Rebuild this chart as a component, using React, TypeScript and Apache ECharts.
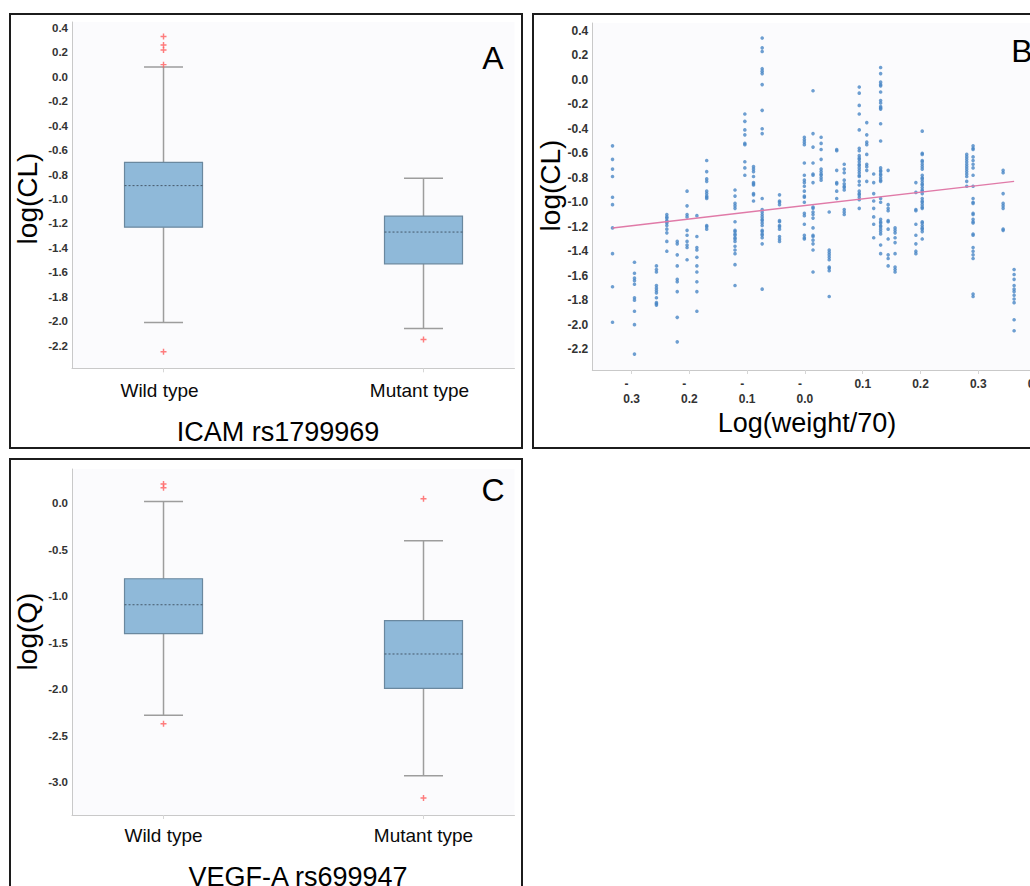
import React, { useEffect, useRef } from "react";
import * as echarts from "echarts";

// ---------- Data ----------
const genotypes = ["Wild type", "Mutant type"];

// Box statistics: [lower whisker, Q1, median, Q3, upper whisker]
const clBoxWild = [-2.01, -1.23, -0.89, -0.7, 0.08];
const clBoxMutant = [-2.06, -1.53, -1.27, -1.14, -0.83];
const clOutliersWild = [0.33, 0.26, 0.22, 0.1, -2.25];
const clOutliersMutant = [-2.15];

const qBoxWild = [-2.28, -1.4, -1.09, -0.81, 0.02];
const qBoxMutant = [-2.93, -1.99, -1.62, -1.26, -0.4];
const qOutliersWild = [0.21, 0.17, -2.37];
const qOutliersMutant = [0.05, -3.17];

const clTicks = [-2.2, -2.0, -1.8, -1.6, -1.4, -1.2, -1.0, -0.8, -0.6, -0.4, -0.2, 0.0, 0.2, 0.4];
const qTicks = [-3.0, -2.5, -2.0, -1.5, -1.0, -0.5, 0.0];
const weightTicks = [-0.3, -0.2, -0.1, 0.0, 0.1, 0.2, 0.3, 0.4];
const weightTickLabels = ["-0.3", "-0.2", "-0.1", "-0.0", "0.1", "0.2", "0.3", "0.4"];

// Scatter (panel B): x positions of the point columns and log(CL) values in each column
const weightColumns = [
  -0.333, -0.295, -0.257, -0.239, -0.221, -0.204, -0.187, -0.17, -0.121, -0.104, -0.089,
  -0.074, -0.044, -0.001, 0.014, 0.028, 0.042, 0.055, 0.068, 0.094, 0.107, 0.119, 0.131,
  0.144, 0.156, 0.192, 0.203, 0.28, 0.291, 0.343, 0.362,
];
const clByWeight = [
  [-0.54, -0.65, -0.73, -0.79, -0.96, -1.02, -1.21, -1.42, -1.69, -1.98],
  [-1.49, -1.58, -1.62, -1.64, -1.67, -1.78, -1.8, -1.89, -2.0, -2.24],
  [-1.52, -1.55, -1.57, -1.68, -1.7, -1.72, -1.74, -1.78, -1.82, -1.83, -1.84],
  [-1.1, -1.12, -1.13, -1.15, -1.16, -1.17, -1.19, -1.22, -1.25, -1.32, -1.4],
  [-1.32, -1.34, -1.43, -1.52, -1.63, -1.65, -1.73, -1.94, -2.14],
  [-0.91, -1.03, -1.1, -1.12, -1.23, -1.27, -1.32, -1.35, -1.37, -1.47],
  [-1.11, -1.28, -1.37, -1.39, -1.45, -1.52, -1.57, -1.65, -1.73, -1.89],
  [-0.66, -0.75, -0.81, -0.83, -0.91, -0.93, -0.95, -0.96, -0.97, -1.19, -1.2, -1.22],
  [-0.9, -0.95, -1.01, -1.03, -1.05, -1.16, -1.23, -1.24, -1.26, -1.27, -1.29, -1.3, -1.32, -1.36, -1.39, -1.42, -1.51, -1.68],
  [-0.28, -0.34, -0.41, -0.45, -0.52, -0.53, -0.67, -0.72, -0.78],
  [-0.71, -0.73, -0.75, -0.79, -0.84, -0.85, -0.86, -0.93, -0.94, -0.99],
  [0.34, 0.26, 0.23, 0.09, 0.07, 0.05, -0.04, -0.25, -0.4, -0.44, -0.97, -1.06, -1.08, -1.1, -1.12, -1.14, -1.15, -1.17, -1.19, -1.23, -1.24, -1.26, -1.27, -1.29, -1.34, -1.71],
  [-0.94, -0.99, -1.0, -1.02, -1.15, -1.16, -1.19, -1.2, -1.22, -1.28, -1.3, -1.32],
  [-0.47, -0.49, -0.51, -0.53, -0.68, -0.78, -0.82, -0.84, -0.87, -0.91, -0.95, -0.96, -1.0, -1.09, -1.11, -1.18, -1.27, -1.29, -1.3],
  [-0.09, -0.44, -0.55, -0.68, -0.77, -0.78, -0.84, -1.04, -1.05, -1.08, -1.1, -1.13, -1.21, -1.27, -1.28, -1.31, -1.34, -1.39, -1.57],
  [-0.47, -0.52, -0.57, -0.65, -0.73, -0.75, -0.77, -0.78, -0.8, -0.82],
  [-1.08, -1.39, -1.41, -1.43, -1.45, -1.47, -1.53, -1.54, -1.56, -1.77],
  [-0.57, -0.58, -0.74, -0.84, -0.85, -0.91, -0.97],
  [-0.69, -0.73, -0.76, -0.82, -0.85, -0.87, -0.88, -0.9, -1.06, -1.08, -1.1],
  [-0.06, -0.11, -0.21, -0.28, -0.41, -0.56, -0.58, -0.62, -0.64, -0.65, -0.67, -0.69, -0.7, -0.72, -0.74, -0.76, -0.78, -0.79, -0.83, -0.86, -0.91, -0.93, -0.94, -0.96, -0.98, -1.05],
  [-0.35, -0.45, -0.51, -0.53, -0.61, -0.69, -0.71, -0.74, -0.83],
  [-0.77, -0.84, -0.93, -0.99, -1.05, -1.12, -1.18, -1.29],
  [0.1, 0.05, -0.02, -0.04, -0.05, -0.1, -0.17, -0.19, -0.22, -0.23, -0.24, -0.36, -0.5, -0.72, -0.74, -0.75, -0.77, -0.78, -0.8, -0.82, -0.83, -0.97, -1.0, -1.14, -1.16, -1.17, -1.19, -1.2, -1.22, -1.24, -1.26, -1.35, -1.42],
  [-0.74, -1.02, -1.05, -1.07, -1.15, -1.16, -1.22, -1.3, -1.43, -1.46, -1.52],
  [-1.21, -1.23, -1.25, -1.29, -1.33, -1.42, -1.53, -1.55, -1.57],
  [-0.84, -0.92, -1.06, -1.07, -1.18, -1.27, -1.34, -1.4, -1.42],
  [-0.42, -0.6, -0.61, -0.66, -0.67, -0.69, -0.71, -0.73, -0.78, -0.8, -0.81, -0.83, -0.85, -0.86, -0.88, -0.9, -0.91, -0.93, -0.97, -0.99, -1.0, -1.02, -1.04, -1.05, -1.16, -1.17, -1.19, -1.21, -1.22, -1.24, -1.3],
  [-0.61, -0.63, -0.65, -0.67, -0.69, -0.71, -0.73, -0.75, -0.77, -0.79, -0.83, -0.87],
  [-0.54, -0.56, -0.57, -0.63, -0.66, -0.69, -0.72, -0.78, -0.87, -0.97, -1.0, -1.01, -1.09, -1.1, -1.14, -1.16, -1.17, -1.26, -1.27, -1.37, -1.4, -1.43, -1.46, -1.75, -1.77],
  [-0.74, -0.76, -0.93, -1.01, -1.03, -1.05, -1.22, -1.23],
  [-1.55, -1.59, -1.63, -1.68, -1.71, -1.73, -1.76, -1.79, -1.82, -1.96, -2.05],
];
const regressionX = [-0.333, 0.362];
const regressionY = [-1.21, -0.83];

// ---------- Styling helpers ----------
const FONT = "'Liberation Sans', Arial, Helvetica, sans-serif";
const AXIS_COLOR = "#c9c9c9";
const PLOT_BG = "#fbfbfd";
const PLUS = "path://M3.8,0H6.2V3.8H10V6.2H6.2V10H3.8V6.2H0V3.8H3.8Z";

const boxRenderItem = (params: any, api: any) => {
  const x = api.value(0);
  const lo = api.coord([x, api.value(1)]);
  const q1 = api.coord([x, api.value(2)]);
  const med = api.coord([x, api.value(3)]);
  const q3 = api.coord([x, api.value(4)]);
  const hi = api.coord([x, api.value(5)]);
  const halfBox = api.size([0.15, 0])[0];
  const halfCap = halfBox / 2;
  const cx = lo[0];
  const whisker = { stroke: "#9d9d9d", lineWidth: 1.5 };
  return {
    type: "group",
    children: [
      { type: "line", shape: { x1: cx, y1: hi[1], x2: cx, y2: q3[1] }, style: whisker },
      { type: "line", shape: { x1: cx, y1: q1[1], x2: cx, y2: lo[1] }, style: whisker },
      { type: "line", shape: { x1: cx - halfCap, y1: hi[1], x2: cx + halfCap, y2: hi[1] }, style: whisker },
      { type: "line", shape: { x1: cx - halfCap, y1: lo[1], x2: cx + halfCap, y2: lo[1] }, style: whisker },
      {
        type: "rect",
        shape: { x: cx - halfBox, y: q3[1], width: 2 * halfBox, height: q1[1] - q3[1] },
        style: { fill: "#8fb9d9", stroke: "#6a889f", lineWidth: 1.2 },
      },
      {
        type: "line",
        shape: { x1: cx - halfBox, y1: med[1], x2: cx + halfBox, y2: med[1] },
        style: { stroke: "#46596b", lineWidth: 1, lineDash: [2, 2] },
      },
    ],
  };
};

const catXAxis = (gridIndex: number, padRight: number, margin: number) => ({
  type: "value",
  gridIndex,
  min: -0.352,
  max: 1.35,
  splitLine: { show: false },
  axisLine: { show: true, onZero: false, lineStyle: { color: AXIS_COLOR } },
  axisTick: { show: true, customValues: [0, 1], length: 4, lineStyle: { color: "#d6d6d6" } },
  axisLabel: {
    customValues: [0, 1],
    formatter: (v: number) => genotypes[Math.round(v)],
    fontSize: 19,
    fontFamily: FONT,
    color: "#0a0a0a",
    margin,
    padding: [0, padRight, 0, 0],
  },
});

const valYAxis = (gridIndex: number, min: number, max: number, ticks: number[], size: number) => ({
  type: "value",
  gridIndex,
  min,
  max,
  splitLine: { show: false },
  axisLine: { show: true, onZero: false, lineStyle: { color: AXIS_COLOR } },
  axisTick: { show: false },
  axisLabel: {
    customValues: ticks,
    formatter: (v: number) => v.toFixed(1),
    fontSize: size,
    fontWeight: "bold",
    fontFamily: FONT,
    color: "#333",
    margin: 4,
  },
});

const boxData = (wild: number[], mutant: number[]) => [
  [0, ...wild],
  [1, ...mutant],
];

const outlierData = (wild: number[], mutant: number[]) => [
  ...wild.map((v) => [0, v]),
  ...mutant.map((v) => [1, v]),
];

const text = (t: string, x: number, y: number, size: number, extra: any = {}) => ({
  type: "text",
  x,
  y,
  silent: true,
  ...extra,
  style: {
    text: t,
    fontSize: size,
    fontFamily: FONT,
    fill: "#000",
    align: "center",
    verticalAlign: "middle",
  },
});

const panelRect = (x: number, y: number, w: number, h: number) => ({
  type: "rect",
  silent: true,
  shape: { x, y, width: w, height: h },
  style: { fill: "none", stroke: "#1c1c1c", lineWidth: 2 },
  z: 10,
});

export default function App() {
  const ref = useRef<HTMLDivElement>(null);

  useEffect(() => {
    document.documentElement.style.overflow = "hidden";
    document.body.style.overflow = "hidden";
    if (!ref.current) return;
    const chart = echarts.init(ref.current, undefined, { renderer: "svg" });

    const scatterPoints: number[][] = [];
    weightColumns.forEach((x, i) => {
      clByWeight[i].forEach((y) => scatterPoints.push([x, y]));
    });

    const option: any = {
      animation: false,
      backgroundColor: "#ffffff",
      textStyle: { fontFamily: FONT },
      grid: [
        { left: 72, top: 22, width: 442.5, height: 346.3, show: true, backgroundColor: PLOT_BG, borderWidth: 0, outerBoundsMode: "none" },
        { left: 592.3, top: 23, width: 450.7, height: 347, show: true, backgroundColor: PLOT_BG, borderWidth: 0, outerBoundsMode: "none" },
        { left: 72, top: 469, width: 442.5, height: 346, show: true, backgroundColor: PLOT_BG, borderWidth: 0, outerBoundsMode: "none" },
      ],
      xAxis: [
        catXAxis(0, 8, 13),
        {
          type: "value",
          gridIndex: 1,
          min: -0.368,
          max: 0.412,
          splitLine: { show: false },
          axisLine: { show: true, onZero: false, lineStyle: { color: AXIS_COLOR } },
          axisTick: { show: true, customValues: weightTicks, length: 4, lineStyle: { color: "#d6d6d6" } },
          axisLabel: {
            customValues: weightTicks,
            formatter: (v: number) => {
              let i = 0;
              weightTicks.forEach((t, k) => {
                if (Math.abs(t - v) < 1e-6) i = k;
              });
              const s = weightTickLabels[i];
              return s.startsWith("-") ? "-   \n" + s.slice(1) : s;
            },
            fontSize: 12,
            fontWeight: "bold",
            lineHeight: 15,
            fontFamily: FONT,
            color: "#333",
            margin: 6,
          },
        },
        catXAxis(2, 0, 11),
      ],
      yAxis: [
        valYAxis(0, -2.385, 0.449, clTicks, 11.5),
        valYAxis(1, -2.37, 0.463, clTicks, 12),
        valYAxis(2, -3.353, 0.371, qTicks, 11.5),
      ],
      series: [
        {
          type: "custom",
          xAxisIndex: 0,
          yAxisIndex: 0,
          renderItem: boxRenderItem,
          encode: { x: 0, y: [1, 2, 3, 4, 5] },
          data: boxData(clBoxWild, clBoxMutant),
        },
        {
          type: "scatter",
          xAxisIndex: 0,
          yAxisIndex: 0,
          symbol: PLUS,
          symbolSize: 6,
          itemStyle: { color: "#ff5c5c" },
          data: outlierData(clOutliersWild, clOutliersMutant),
        },
        {
          type: "scatter",
          xAxisIndex: 1,
          yAxisIndex: 1,
          symbol: "circle",
          symbolSize: 3.6,
          itemStyle: { color: "#4a87c6" },
          data: scatterPoints,
        },
        {
          type: "line",
          xAxisIndex: 1,
          yAxisIndex: 1,
          symbol: "none",
          lineStyle: { color: "#e07aa8", width: 1.5 },
          data: regressionX.map((x, i) => [x, regressionY[i]]),
          z: 3,
        },
        {
          type: "custom",
          xAxisIndex: 2,
          yAxisIndex: 2,
          renderItem: boxRenderItem,
          encode: { x: 0, y: [1, 2, 3, 4, 5] },
          data: boxData(qBoxWild, qBoxMutant),
        },
        {
          type: "scatter",
          xAxisIndex: 2,
          yAxisIndex: 2,
          symbol: PLUS,
          symbolSize: 6,
          itemStyle: { color: "#ff5c5c" },
          data: outlierData(qOutliersWild, qOutliersMutant),
        },
      ],
      graphic: [
        panelRect(10, 14, 512, 434),
        panelRect(533, 14, 520, 434),
        panelRect(10, 459, 512, 440),
        text("A", 493, 58, 32),
        text("B", 1022, 51, 32),
        text("C", 493, 490, 32),
        text("log(CL)", 27, 198.5, 28, { rotation: Math.PI / 2 }),
        text("log(CL)", 550, 185.5, 28, { rotation: Math.PI / 2 }),
        text("log(Q)", 27, 631.5, 28, { rotation: Math.PI / 2 }),
        text("ICAM rs1799969", 278, 432, 27),
        text("Log(weight/70)", 807, 423, 27),
        text("VEGF-A rs699947", 298, 877, 27),
      ],
    };

    chart.setOption(option);
    return () => chart.dispose();
  }, []);

  return (
    <div
      ref={ref}
      style={{ position: "fixed", left: 0, top: 0, width: 1100, height: 950, background: "#fff" }}
    />
  );
}
